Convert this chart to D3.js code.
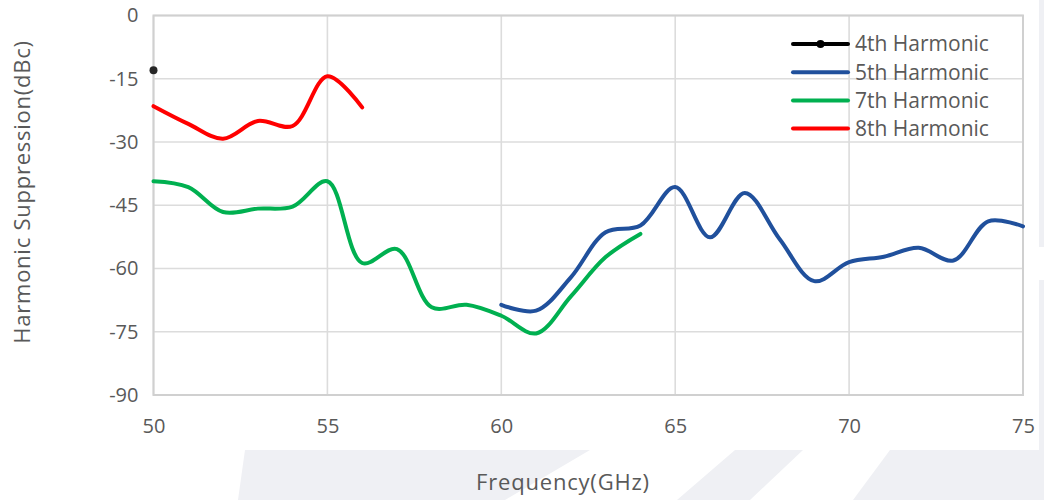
<!DOCTYPE html>
<html>
<head>
<meta charset="utf-8">
<script src="https://cdn.jsdelivr.net/npm/d3@7"></script>
<style>
  html, body { margin: 0; padding: 0; background: #fff; }
  svg { display: block; }
</style>
</head>
<body>
<script>
// data (frequency in GHz, suppression in dBc)
const freq4 = [50];
const h4 = [-13];

const freq5 = [60, 61, 62, 63, 64, 65, 66, 67, 68, 69, 70, 71, 72, 73, 74, 75];
const h5 = [-68.6, -70.0, -62.1, -51.4, -49.8, -40.7, -52.6, -42.1, -53.0, -63.0, -58.5, -57.2, -55.1, -58.1, -48.8, -50.0];

const freq7 = [50, 51, 52, 53, 54, 55, 56, 57, 58, 59, 60, 61, 62, 63, 64];
const h7 = [-39.3, -40.7, -46.6, -45.8, -45.3, -39.3, -58.7, -55.4, -69.2, -68.6, -71.2, -75.4, -66.6, -57.3, -51.8];

const freq8 = [50, 51, 52, 53, 54, 55, 56];
const h8 = [-21.5, -25.7, -29.2, -25.0, -26.2, -14.4, -21.8];

const xTicks = [50, 55, 60, 65, 70, 75];
const yTicks = [0, -15, -30, -45, -60, -75, -90];

const series = [
  { name: "4th Harmonic", x: freq4, y: h4, color: "#000000", marker: true },
  { name: "5th Harmonic", x: freq5, y: h5, color: "#20509c" },
  { name: "7th Harmonic", x: freq7, y: h7, color: "#00b050" },
  { name: "8th Harmonic", x: freq8, y: h8, color: "#ff0000" }
];

const width = 1044, height = 500;
const font = "'Open Sans', sans-serif";
const textColor = "#595959";

const svg = d3.select("body").append("svg")
    .attr("width", width)
    .attr("height", height)
    .attr("font-family", font);

// faint watermark background
const bg = svg.append("g").attr("fill", "#eff0f4");
bg.append("polygon").attr("points", "245,450 590,450 505,500 238,500");
bg.append("polygon").attr("points", "735,450 803,450 750,500 677,500");
bg.append("polygon").attr("points", "890,450 1044,450 1044,500 853,500");
bg.append("rect").attr("x", 1039).attr("y", 0).attr("width", 5).attr("height", 247);
bg.append("rect").attr("x", 1039).attr("y", 280).attr("width", 5).attr("height", 220);

const x = d3.scaleLinear().domain([50, 75]).range([153.5, 1023]);
const y = d3.scaleLinear().domain([-90, 0]).range([395, 15.5]);

// grid
const grid = svg.append("g").attr("stroke", "#dcdcdc").attr("stroke-width", 1.6);
grid.selectAll("line.h")
  .data(yTicks)
  .enter().append("line")
    .attr("x1", x(50)).attr("x2", x(75))
    .attr("y1", d => y(d)).attr("y2", d => y(d));
grid.selectAll("line.v")
  .data(xTicks)
  .enter().append("line")
    .attr("x1", d => x(d)).attr("x2", d => x(d))
    .attr("y1", y(0)).attr("y2", y(-90));

svg.append("rect")
    .attr("x", x(50)).attr("y", y(0))
    .attr("width", x(75) - x(50)).attr("height", y(-90) - y(0))
    .attr("fill", "none")
    .attr("stroke", "#d0d0d0")
    .attr("stroke-width", 2);

// axes (labels only, Excel-like)
const yAxis = svg.append("g")
    .attr("transform", `translate(${x(50)},0)`)
    .call(d3.axisLeft(y).tickValues(yTicks).tickFormat(d => String(d)).tickSize(0).tickPadding(15));
const xAxis = svg.append("g")
    .attr("transform", `translate(0,${y(-90)})`)
    .call(d3.axisBottom(x).tickValues(xTicks).tickFormat(d => String(d)).tickSize(0).tickPadding(24));
[yAxis, xAxis].forEach(g => {
  g.select(".domain").remove();
  g.selectAll("text")
      .attr("fill", textColor)
      .attr("font-size", 20)
      .attr("font-family", font);
});

// lines
const line = d3.line()
    .x(d => x(d[0]))
    .y(d => y(d[1]))
    .curve(d3.curveCatmullRom.alpha(0.5));

series.forEach(s => {
  const pts = s.x.map((f, i) => [f, s.y[i]]);
  if (pts.length > 1) {
    svg.append("path")
        .datum(pts)
        .attr("fill", "none")
        .attr("stroke", s.color)
        .attr("stroke-width", 4)
        .attr("stroke-linecap", "round")
        .attr("stroke-linejoin", "round")
        .attr("d", line);
  }
  if (s.marker) {
    svg.selectAll(null)
      .data(pts)
      .enter().append("circle")
        .attr("cx", d => x(d[0]))
        .attr("cy", d => y(d[1]))
        .attr("r", 4)
        .attr("fill", "#262626");
  }
});

// legend
const legend = svg.append("g")
    .selectAll("g")
    .data(series)
    .enter().append("g")
    .attr("transform", (d, i) => `translate(793,${44 + i * 28.2})`);

legend.append("line")
    .attr("x1", 0).attr("x2", 55)
    .attr("stroke", d => d.color)
    .attr("stroke-width", 4)
    .attr("stroke-linecap", "round");
legend.filter(d => d.marker).append("circle")
    .attr("cx", 27.5).attr("r", 4)
    .attr("fill", "#000");
legend.append("text")
    .attr("x", 62)
    .attr("dy", "0.35em")
    .attr("font-size", 21)
    .attr("fill", textColor)
    .text(d => d.name);

// axis titles
svg.append("text")
    .attr("transform", `translate(30,192) rotate(-90)`)
    .attr("text-anchor", "middle")
    .attr("font-size", 22)
    .attr("letter-spacing", 0.75)
    .attr("fill", textColor)
    .text("Harmonic Suppression(dBc)");

svg.append("text")
    .attr("x", 563)
    .attr("y", 490)
    .attr("text-anchor", "middle")
    .attr("font-size", 22)
    .attr("letter-spacing", 0.8)
    .attr("fill", textColor)
    .text("Frequency(GHz)");
</script>
</body>
</html>
